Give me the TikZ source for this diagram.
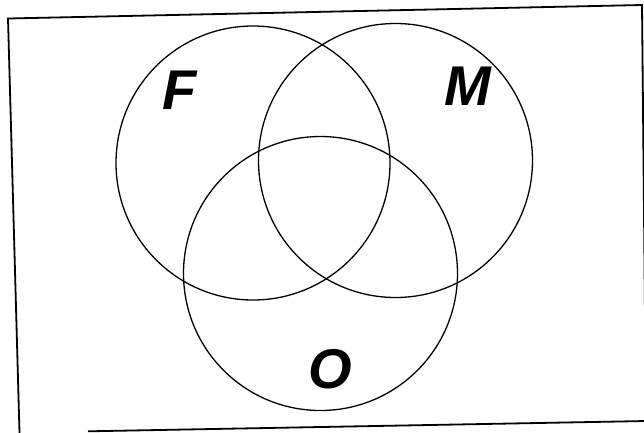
\documentclass[tikz,border=0pt]{standalone}
\usepackage{fontspec}
\setmainfont{Liberation Sans}

\begin{document}
\begin{tikzpicture}[x=1pt, y=-1pt,
    set/.style={draw, circle, line width=1.3pt, minimum size=274pt, inner sep=0pt},
    setlabel/.style={font=\fontsize{56}{56}\selectfont\bfseries\itshape, inner sep=0pt}]
    \useasboundingbox (0,0) rectangle (644,432);

    % Frame (scanned slightly askew, bottom left part missing)
    \coordinate (TL) at (8,18.5);
    \coordinate (TR) at (642,5);
    \coordinate (BR) at (646,421);
    \coordinate (BL) at (19.5,433);
    \coordinate (BB) at (88,431.3);
    \draw[line width=1.8pt] (BB) -- (BR) -- (TR) -- (TL) -- (BL);

    % Sets
    \node[set] (F) at (253,163) {};
    \node[set] (M) at (395.5,160.5) {};
    \node[set] (O) at (320.5,273.5) {};

    % Set names
    \node[setlabel] (Fname) at (180,90) {F};
    \node[setlabel] (Mname) at (468,86) {M};
    \node[setlabel] (Oname) at (330,369) {O};
\end{tikzpicture}
\end{document}
